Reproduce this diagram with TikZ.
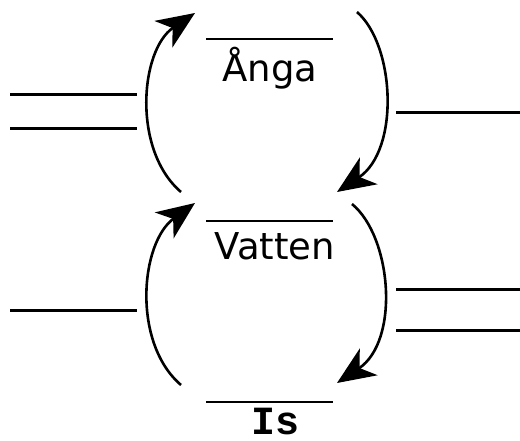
\documentclass[tikz,border=0pt]{standalone}
\usepackage{fontspec}
\setmainfont{DejaVu Sans}
\newfontfamily\monofam{Liberation Mono}
\usetikzlibrary{arrows.meta}
\begin{document}
\begin{tikzpicture}[x=1pt,y=-1pt,
  level/.style={line width=3pt},
  bar/.style={line width=2.6pt},
  cyc/.style={line width=2.6pt,-{Stealth[length=38pt,width=32pt,inset=11pt]}},
  lbl/.style={anchor=base,inner sep=0pt,font=\fontsize{37}{40}\selectfont}]
\useasboundingbox (0,0) rectangle (520,441);
% level lines
\draw[level] (10,95) -- (137,95);
\draw[level] (10,129) -- (137,129);
\draw[level] (396,113) -- (520,113);
\draw[level] (10,310) -- (137,310);
\draw[level] (396,289) -- (520,289);
\draw[level] (396,330) -- (520,330);
% bars and labels
\draw[bar] (206,39) -- (333,39);
\node[lbl] (anga) at (270,82) {Ånga};
\draw[bar] (206,221) -- (333,221);
\node[lbl] (vatten) at (275,259) {Vatten};
\draw[bar] (206,402) -- (333,402);
\node[lbl,font=\monofam\bfseries\fontsize{40}{44}\selectfont] (is) at (276,434) {Is};
% cycle arcs
\draw[cyc] (181,192) .. controls (132,150) and (140,50) .. (195,13);
\draw[cyc] (357,12) .. controls (395,45) and (400,150) .. (337,192);
\draw[cyc] (181,385) .. controls (132,343) and (140,243) .. (195,203);
\draw[cyc] (352,204) .. controls (392,237) and (400,341) .. (337,383);
\end{tikzpicture}
\end{document}
